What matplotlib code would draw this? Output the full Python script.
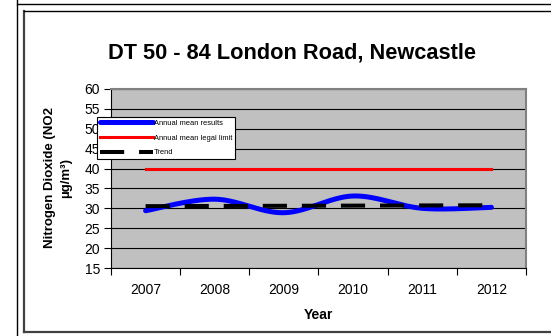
import numpy as np
import matplotlib
matplotlib.use("Agg")
import matplotlib.pyplot as plt
from matplotlib.lines import Line2D

plt.rcParams["font.family"] = ["Liberation Sans", "DejaVu Sans"]

years = ["2007", "2008", "2009", "2010", "2011", "2012"]
annual_mean = [29.4, 32.3, 28.9, 33.1, 30.0, 30.25]
legal_limit = [40, 40, 40, 40, 40, 40]
y_ticks = [15, 20, 25, 30, 35, 40, 45, 50, 55, 60]

W, H = 551, 336
fig = plt.figure(figsize=(W / 100, H / 100), dpi=100)


def px_x(x):
    return x / W


def px_y(y):
    return 1 - y / H


# chart frame
fig.add_artist(Line2D([px_x(16.5), px_x(16.5)], [0, 1], color="black", lw=1.0))
fig.add_artist(Line2D([px_x(16.5), 1], [px_y(4), px_y(4)], color="black", lw=1.0))
fig.add_artist(Line2D([px_x(24), px_x(24)], [px_y(11), px_y(331.5)], color="#404040", lw=1.6))
fig.add_artist(Line2D([px_x(24), 1], [px_y(11), px_y(11)], color="black", lw=1.0))
fig.add_artist(Line2D([px_x(24), 1], [px_y(331.5), px_y(331.5)], color="#404040", lw=1.6))

left, right, top, bottom = 111, 526, 89, 268
ax = fig.add_axes([px_x(left), px_y(bottom), (right - left) / W, (bottom - top) / H])
ax.set_facecolor("#c0c0c0")

x = np.arange(len(years))


def smooth_curve(xs, ys, n=40):
    """Cubic Bezier smoothing through the points (Catmull-Rom tangents)."""
    xs = np.asarray(xs, float)
    ys = np.asarray(ys, float)
    px, py = [], []
    for i in range(len(xs) - 1):
        x0, y0 = xs[i], ys[i]
        x3, y3 = xs[i + 1], ys[i + 1]
        xm = xs[i - 1] if i > 0 else x0
        ym = ys[i - 1] if i > 0 else y0
        xp = xs[i + 2] if i + 2 < len(xs) else x3
        yp = ys[i + 2] if i + 2 < len(xs) else y3
        x1, y1 = x0 + (x3 - xm) / 6, y0 + (y3 - ym) / 6
        x2, y2 = x3 - (xp - x0) / 6, y3 - (yp - y0) / 6
        t = np.linspace(0, 1, n)
        bx = (1 - t) ** 3 * x0 + 3 * (1 - t) ** 2 * t * x1 + 3 * (1 - t) * t ** 2 * x2 + t ** 3 * x3
        by = (1 - t) ** 3 * y0 + 3 * (1 - t) ** 2 * t * y1 + 3 * (1 - t) * t ** 2 * y2 + t ** 3 * y3
        px.extend(bx)
        py.extend(by)
    return np.array(px), np.array(py)


sx, sy = smooth_curve(x, annual_mean)
ax.plot(sx, sy, color="#0000ff", lw=3.6, solid_capstyle="round", zorder=4,
        label="Annual mean results")
ax.plot(x, legal_limit, color="#ff0000", lw=2.2, zorder=3, label="Annual mean legal limit")

# linear trend of the annual means
coef = np.polyfit(x, annual_mean, 1)
trend = np.polyval(coef, x)
ax.plot(x, trend, color="black", lw=2.9, linestyle=(0, (6.0, 3.7)),
        dash_capstyle="butt", zorder=5, label="Trend")

ax.set_xlim(-0.5, len(years) - 0.5)
ax.set_ylim(15, 60)
ax.set_yticks(y_ticks)
ax.set_xticks(np.arange(-0.5, len(years), 1.0))
ax.set_xticklabels([])
ax.set_xticks(x, minor=True)
ax.set_xticklabels(years, minor=True, fontsize=10)
ax.tick_params(axis="x", which="minor", length=0, pad=18.9)
ax.tick_params(axis="x", which="major", length=5, direction="out", width=0.8)
ax.tick_params(axis="y", length=5, direction="out", width=0.8, labelsize=10, pad=3)
for lab in ax.get_xticklabels(minor=True):
    lab.set_verticalalignment("baseline")
ax.yaxis.grid(True, color="black", lw=0.8)
ax.set_axisbelow(True)
for s in ("top", "right"):
    ax.spines[s].set_color("#808080")
    ax.spines[s].set_linewidth(1.5)
for s in ("left", "bottom"):
    ax.spines[s].set_color("black")
    ax.spines[s].set_linewidth(0.8)

fig.text(px_x(108.5), px_y(58.3), "DT 50 - 84 London Road, Newcastle",
         ha="left", va="baseline", fontsize=15.7, fontweight="bold")
fig.text(px_x(318), px_y(319.3), "Year", ha="center", va="baseline",
         fontsize=10, fontweight="bold")
fig.text(px_x(58), px_y(178), "Nitrogen Dioxide (NO2\nµg/m³)", ha="center", va="center",
         rotation=90, fontsize=9.5, fontweight="bold", linespacing=1.5, multialignment="center")

leg = ax.legend(loc="upper left", bbox_to_anchor=(px_x(97), px_y(116.5)),
                bbox_transform=fig.transFigure, fontsize=5.4, frameon=True,
                fancybox=False, edgecolor="black", framealpha=1, handlelength=7.1,
                handletextpad=0.1, labelspacing=1.0, borderpad=0.4, borderaxespad=0)
leg.get_frame().set_linewidth(0.8)
leg.set_zorder(10)

fig.savefig("out.png", dpi=100)
